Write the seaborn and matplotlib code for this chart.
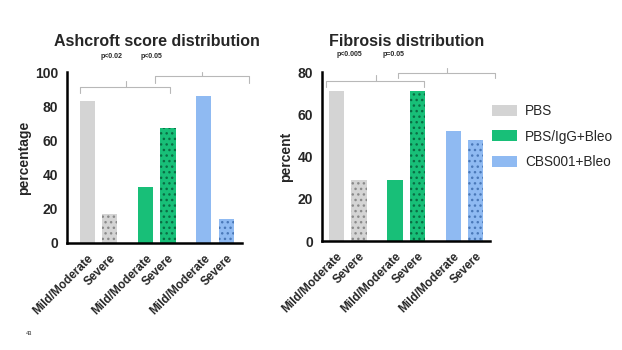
import matplotlib
matplotlib.use("Agg")
import matplotlib.pyplot as plt
from matplotlib.patches import Patch
import seaborn as sns
import pandas as pd

groups = ["PBS", "PBS", "PBS/IgG+Bleo", "PBS/IgG+Bleo", "CBS001+Bleo", "CBS001+Bleo"]
grades = ["Mild/Moderate", "Severe"] * 3
positions = [0, 1, 2.6, 3.6, 5.2, 6.2]
ashcroft = [83, 17, 33, 67, 86, 14]
fibrosis = [71, 29, 29, 71, 52, 48]

colors = {"PBS": "#d4d4d4", "PBS/IgG+Bleo": "#18bf78", "CBS001+Bleo": "#8fbaf2"}
hatch_colors = {"PBS": "#8a8a8a", "PBS/IgG+Bleo": "#0a6e44", "CBS001+Bleo": "#4a78b8"}

sns.set_style("white")
plt.rcParams["font.family"] = ["Liberation Sans", "DejaVu Sans"]
plt.rcParams["hatch.linewidth"] = 1.0

fig = plt.figure(figsize=(6.22, 3.5), dpi=100)
ax1 = fig.add_axes([0.108, 0.306, 0.281, 0.488])
ax2 = fig.add_axes([0.518, 0.311, 0.270, 0.483])


def draw(ax, values, ymax, ylabel, xlim):
    df = pd.DataFrame({"pos": positions, "value": values, "group": groups, "grade": grades})
    sns.barplot(data=df, x="pos", y="value", hue="group", palette=colors,
                native_scale=True, width=0.68, legend=False, ax=ax,
                linewidth=0, saturation=1)
    for p in ax.patches:
        cx = p.get_x() + p.get_width() / 2
        i = min(range(len(positions)), key=lambda k: abs(positions[k] - cx))
        if grades[i] == "Severe":
            p.set_hatch("...")
            p.set_edgecolor(hatch_colors[groups[i]])
            p.set_linewidth(0)
    ax.set_xticks(positions)
    ax.set_xticklabels(grades, rotation=45, ha="right", rotation_mode="anchor",
                       fontsize=8.5, fontweight="bold")
    ax.set_xlim(*xlim)
    ax.set_ylim(0, ymax)
    ax.set_yticks(range(0, ymax + 1, 20))
    ax.set_yticklabels([str(v) for v in range(0, ymax + 1, 20)], fontsize=10, fontweight="bold")
    ax.set_xlabel("")
    ax.set_ylabel(ylabel, fontsize=10, fontweight="bold", labelpad=3)
    for s in ["top", "right"]:
        ax.spines[s].set_visible(False)
    for s in ["left", "bottom"]:
        ax.spines[s].set_linewidth(1.8)
        ax.spines[s].set_color("black")
    ax.tick_params(axis="both", direction="out", length=5, width=1.6, color="black", pad=1.5)


def bracket(ax, x0, x1, y, drop, xc, rise):
    kw = dict(color="#b8b8b8", lw=0.8, clip_on=False)
    ax.plot([x0, x0, x1, x1], [y - drop, y, y, y - drop], **kw)
    ax.plot([xc, xc], [y, y + rise], **kw)


draw(ax1, ashcroft, 100, "percentage", (-0.9, 6.9))
draw(ax2, fibrosis, 80, "percent", (-0.64, 6.84))

bracket(ax1, -0.32, 3.7, 91, 3.5, 1.73, 4)
bracket(ax1, 3.0, 7.2, 97.7, 4, 5.1, 2.5)
bracket(ax2, -0.47, 3.9, 76, 3, 1.76, 2.7)
bracket(ax2, 2.73, 7.07, 79.8, 2.4, 4.9, 2.2)

fig.text(0.252, 0.882, "Ashcroft score distribution", ha="center", va="center",
         fontsize=11.5, fontweight="bold")
fig.text(0.653, 0.882, "Fibrosis distribution", ha="center", va="center",
         fontsize=11.5, fontweight="bold")
fig.text(0.179, 0.838, "p<0.02", ha="center", va="center", fontsize=5, fontweight="bold")
fig.text(0.244, 0.838, "p<0.05", ha="center", va="center", fontsize=5, fontweight="bold")
fig.text(0.561, 0.843, "p<0.005", ha="center", va="center", fontsize=5, fontweight="bold")
fig.text(0.632, 0.843, "p=0.05", ha="center", va="center", fontsize=5, fontweight="bold")
fig.text(0.047, 0.046, "43", ha="center", va="center", fontsize=4)

handles = [Patch(facecolor=c, edgecolor="none") for c in colors.values()]
fig.legend(handles, list(colors.keys()), loc="center left", bbox_to_anchor=(0.772, 0.61),
           frameon=False, fontsize=9.8, handlelength=1.8, handleheight=0.9,
           labelspacing=0.85, handletextpad=0.6)

fig.savefig("out.png", dpi=100)
